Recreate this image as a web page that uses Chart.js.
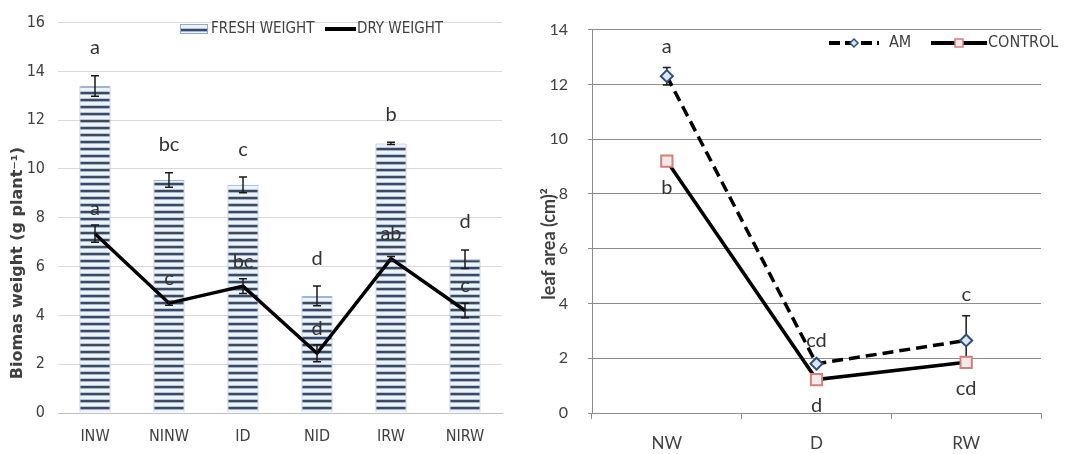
<!DOCTYPE html>
<html>
<head>
<meta charset="utf-8">
<script src="https://cdn.jsdelivr.net/npm/chart.js@4.4.1/dist/chart.umd.min.js"></script>
<style>
  html, body { margin: 0; padding: 0; background: #ffffff; }
  body { width: 1068px; height: 454px; overflow: hidden; position: relative; }
  #biomass { position: absolute; left: 0; top: 0; }
  #leaf { position: absolute; left: 534px; top: 0; }
</style>
</head>
<body>
<canvas id="biomass" width="534" height="454"></canvas>
<canvas id="leaf" width="534" height="454"></canvas>
<script>
// ---------------- DATA ----------------
const biomassCategories = ['INW', 'NINW', 'ID', 'NID', 'IRW', 'NIRW'];
const freshWeight     = [13.4, 9.55, 9.35, 4.8, 11.05, 6.3];
const freshWeightErr  = [0.42, 0.3, 0.32, 0.4, 0.05, 0.38];
const freshLetters    = ['a', 'bc', 'c', 'd', 'b', 'd'];
const dryWeight       = [7.35, 4.5, 5.2, 2.45, 6.33, 4.2];
const dryWeightErr    = [0.35, 0.08, 0.3, 0.35, 0.08, 0.3];
const dryLetters      = ['a', 'c', 'bc', 'd', 'ab', 'c'];
const biomassTicks    = { min: 0, max: 16, step: 2 };
const biomassTitle    = 'Biomas weight (g plant\u207B\u00B9)';

const leafCategories  = ['NW', 'D', 'RW'];
const amLeafArea      = [12.3, 1.8, 2.65];
const amLeafErr       = [0.32, 0.08, 0.9];
const amLetters       = ['a', 'cd', 'c'];
const controlLeafArea = [9.2, 1.22, 1.85];
const controlLeafErr  = [0, 0, 0];
const controlLetters  = ['b', 'd', 'cd'];
const leafTicks       = { min: 0, max: 14, step: 2 };
const leafTitle       = 'leaf area (cm)\u00B2';

// ---------------- STYLE ----------------
const NARROW = "'Liberation Sans Narrow', 'Arial Narrow', 'DejaVu Sans Condensed', sans-serif";
const CAL = "Lato, 'Open Sans', sans-serif";
const TXT = '#404040';

function stripePattern(ctx) {
  const c = document.createElement('canvas');
  c.width = 8; c.height = 7;
  const g = c.getContext('2d');
  g.fillStyle = '#ffffff'; g.fillRect(0, 0, 8, 7);
  g.fillStyle = '#b4c7e2'; g.fillRect(0, 0, 8, 1);
  g.fillStyle = '#3f495c'; g.fillRect(0, 1, 8, 2);
  g.fillStyle = '#9fb4d3'; g.fillRect(0, 3, 8, 1);
  g.fillStyle = '#eef3fa'; g.fillRect(0, 4, 8, 3);
  return ctx.createPattern(c, 'repeat');
}

function drawErr(ctx, px, top, bot, cap) {
  ctx.beginPath();
  ctx.moveTo(px, top); ctx.lineTo(px, bot);
  ctx.moveTo(px - cap, top); ctx.lineTo(px + cap, top);
  ctx.moveTo(px - cap, bot); ctx.lineTo(px + cap, bot);
  ctx.stroke();
}

// ---------------- LEFT CHART ----------------
const bctx = document.getElementById('biomass').getContext('2d');
const pat = stripePattern(bctx);

const biomassDecor = {
  id: 'biomassDecor',
  afterDatasetsDraw(chart) {
    const { ctx, scales: { x, y } } = chart;
    ctx.save();
    ctx.strokeStyle = '#1a1a1a';
    ctx.lineWidth = 1.5;
    freshWeight.forEach((v, i) => {
      const px = x.getPixelForValue(i);
      drawErr(ctx, px, y.getPixelForValue(v + freshWeightErr[i]), y.getPixelForValue(v - freshWeightErr[i]), 4);
    });
    dryWeight.forEach((v, i) => {
      const px = x.getPixelForValue(i);
      drawErr(ctx, px, y.getPixelForValue(v + dryWeightErr[i]), y.getPixelForValue(v - dryWeightErr[i]), 4);
    });
    ctx.fillStyle = '#333333';
    ctx.font = '20px ' + CAL;
    ctx.textAlign = 'center';
    ctx.textBaseline = 'middle';
    freshLetters.forEach((t, i) => {
      const px = x.getPixelForValue(i);
      ctx.fillText(t, px, y.getPixelForValue(freshWeight[i] + freshWeightErr[i]) - 28);
    });
    dryLetters.forEach((t, i) => {
      const px = x.getPixelForValue(i);
      ctx.fillText(t, px, y.getPixelForValue(dryWeight[i]) - 25);
    });
    ctx.restore();
  },
  afterDraw(chart) {
    const ctx = chart.ctx;
    ctx.save();
    // legend
    const ds = chart.data.datasets;
    ctx.fillStyle = pat;
    ctx.fillRect(180, 24, 28, 10);
    ctx.strokeStyle = '#8eaad4'; ctx.lineWidth = 1;
    ctx.strokeRect(180.5, 24.5, 27, 9);
    ctx.fillStyle = TXT;
    ctx.font = '15px ' + NARROW;
    ctx.textBaseline = 'middle';
    ctx.textAlign = 'left';
    ctx.fillText(ds[1].label, 211, 29);
    ctx.strokeStyle = '#000'; ctx.lineWidth = 4;
    ctx.beginPath(); ctx.moveTo(325, 29); ctx.lineTo(356, 29); ctx.stroke();
    ctx.fillText(ds[0].label, 357, 29);
    // y title
    ctx.translate(18, 263);
    ctx.rotate(-Math.PI / 2);
    ctx.textAlign = 'center';
    ctx.font = 'bold 16px "DejaVu Sans", sans-serif';
    ctx.fillStyle = '#404040';
    ctx.fillText(biomassTitle, 0, 0);
    ctx.restore();
  }
};

new Chart(bctx, {
  type: 'bar',
  data: {
    labels: biomassCategories,
    datasets: [
      {
        type: 'line',
        label: 'DRY WEIGHT',
        data: dryWeight,
        borderColor: '#000000',
        borderWidth: 3.5,
        pointRadius: 0,
        tension: 0,
        order: 0
      },
      {
        type: 'bar',
        label: 'FRESH WEIGHT',
        data: freshWeight,
        backgroundColor: pat,
        borderColor: '#9db5d8',
        borderWidth: 1,
        categoryPercentage: 1,
        barPercentage: 0.42,
        order: 1
      }
    ]
  },
  options: {
    responsive: false,
    animation: false,
    events: [],
    layout: { padding: { left: 0, right: 32, top: 22, bottom: 0 } },
    plugins: { legend: { display: false }, tooltip: { enabled: false } },
    scales: {
      x: {
        grid: { display: false, drawTicks: false },
        border: { display: true, color: '#bfbfbf', width: 1 },
        ticks: { font: { family: NARROW, size: 16 }, color: TXT, padding: 14 },
        afterFit(s) { s.height = 41; }
      },
      y: {
        min: biomassTicks.min,
        max: biomassTicks.max,
        ticks: { stepSize: biomassTicks.step, font: { family: NARROW, size: 16 }, color: TXT, padding: 13 },
        grid: { color: '#d9d9d9', drawTicks: false },
        border: { display: false },
        afterFit(s) { s.width = 58; }
      }
    }
  },
  plugins: [biomassDecor]
});

// ---------------- RIGHT CHART ----------------
const lctx = document.getElementById('leaf').getContext('2d');

const AM_PT = { style: 'rectRot', radius: 6, border: '#2e4f7c', fill: '#dce6f2' };
const CT_PT = { style: 'rect', radius: 8, border: '#d47f7c', fill: '#f4eaea' };

const leafDecor = {
  id: 'leafDecor',
  beforeDatasetsDraw(chart) {
    const { ctx, scales: { x, y } } = chart;
    ctx.save();
    ctx.strokeStyle = '#1a1a1a';
    ctx.lineWidth = 1.5;
    amLeafArea.forEach((v, i) => {
      if (amLeafErr[i] <= 0) return;
      drawErr(ctx, x.getPixelForValue(i), y.getPixelForValue(v + amLeafErr[i]), y.getPixelForValue(v - amLeafErr[i]), 4);
    });
    controlLeafArea.forEach((v, i) => {
      if (controlLeafErr[i] <= 0) return;
      drawErr(ctx, x.getPixelForValue(i), y.getPixelForValue(v + controlLeafErr[i]), y.getPixelForValue(v - controlLeafErr[i]), 4);
    });
    ctx.restore();
  },
  afterDatasetsDraw(chart) {
    const { ctx, scales: { x, y } } = chart;
    ctx.save();
    ctx.fillStyle = '#333333';
    ctx.font = '20px ' + CAL;
    ctx.textAlign = 'center';
    ctx.textBaseline = 'middle';
    amLetters.forEach((t, i) => {
      ctx.fillText(t, x.getPixelForValue(i), y.getPixelForValue(amLeafArea[i] + amLeafErr[i]) - 21);
    });
    controlLetters.forEach((t, i) => {
      ctx.fillText(t, x.getPixelForValue(i), y.getPixelForValue(controlLeafArea[i] - controlLeafErr[i]) + 26);
    });
    ctx.restore();
  },
  afterDraw(chart) {
    const ctx = chart.ctx;
    const ds = chart.data.datasets;
    ctx.save();
    const ly = 43;
    // AM legend
    ctx.strokeStyle = '#000'; ctx.lineWidth = 4;
    ctx.setLineDash([11, 5]);
    ctx.beginPath(); ctx.moveTo(295, ly); ctx.lineTo(345, ly); ctx.stroke();
    ctx.setLineDash([]);
    ctx.fillStyle = AM_PT.fill; ctx.strokeStyle = AM_PT.border; ctx.lineWidth = 1.5;
    ctx.beginPath(); ctx.moveTo(320, ly - 4); ctx.lineTo(324, ly); ctx.lineTo(320, ly + 4); ctx.lineTo(316, ly); ctx.closePath(); ctx.fill(); ctx.stroke();
    ctx.fillStyle = TXT;
    ctx.font = '16px ' + NARROW;
    ctx.textBaseline = 'middle'; ctx.textAlign = 'left';
    ctx.fillText(ds[0].label, 355, ly);
    // CONTROL legend
    ctx.strokeStyle = '#000'; ctx.lineWidth = 4;
    ctx.beginPath(); ctx.moveTo(397, ly); ctx.lineTo(453, ly); ctx.stroke();
    ctx.fillStyle = CT_PT.fill; ctx.strokeStyle = CT_PT.border; ctx.lineWidth = 1.5;
    ctx.fillRect(421, ly - 4, 8, 8); ctx.strokeRect(421, ly - 4, 8, 8);
    ctx.fillStyle = TXT;
    ctx.fillText(ds[1].label, 454, ly);
    // y title
    ctx.translate(15, 244);
    ctx.rotate(-Math.PI / 2);
    ctx.textAlign = 'center';
    ctx.font = 'bold 18px ' + CAL;
    ctx.fillStyle = '#404040';
    ctx.fillText(leafTitle, 0, 0);
    ctx.restore();
  }
};

new Chart(lctx, {
  type: 'line',
  data: {
    labels: leafCategories,
    datasets: [
      {
        label: 'AM',
        data: amLeafArea,
        borderColor: '#000000',
        borderWidth: 3.5,
        borderDash: [11, 6],
        tension: 0,
        pointStyle: AM_PT.style,
        pointRadius: AM_PT.radius,
        pointBorderColor: AM_PT.border,
        pointBackgroundColor: AM_PT.fill,
        pointBorderWidth: 2
      },
      {
        label: 'CONTROL',
        data: controlLeafArea,
        borderColor: '#000000',
        borderWidth: 3.5,
        tension: 0,
        pointStyle: CT_PT.style,
        pointRadius: CT_PT.radius,
        pointBorderColor: CT_PT.border,
        pointBackgroundColor: CT_PT.fill,
        pointBorderWidth: 2
      }
    ]
  },
  options: {
    responsive: false,
    animation: false,
    events: [],
    layout: { padding: { left: 0, right: 27, top: 15, bottom: 0 } },
    plugins: { legend: { display: false }, tooltip: { enabled: false } },
    scales: {
      x: {
        offset: true,
        grid: { offset: true, drawOnChartArea: false, drawTicks: true, tickLength: 6, color: '#8c8c8c' },
        border: { display: true, color: '#8c8c8c', width: 1 },
        ticks: { font: { family: CAL, size: 17 }, color: TXT, padding: 14 },
        afterFit(s) { s.height = 41; }
      },
      y: {
        min: leafTicks.min,
        max: leafTicks.max,
        ticks: { stepSize: leafTicks.step, font: { family: CAL, size: 16 }, color: TXT, padding: 20 },
        grid: { color: '#8c8c8c', drawTicks: true, tickLength: 4 },
        border: { display: true, color: '#8c8c8c', width: 1 },
        afterFit(s) { s.width = 58; }
      }
    }
  },
  plugins: [leafDecor]
});
</script>
</body>
</html>
